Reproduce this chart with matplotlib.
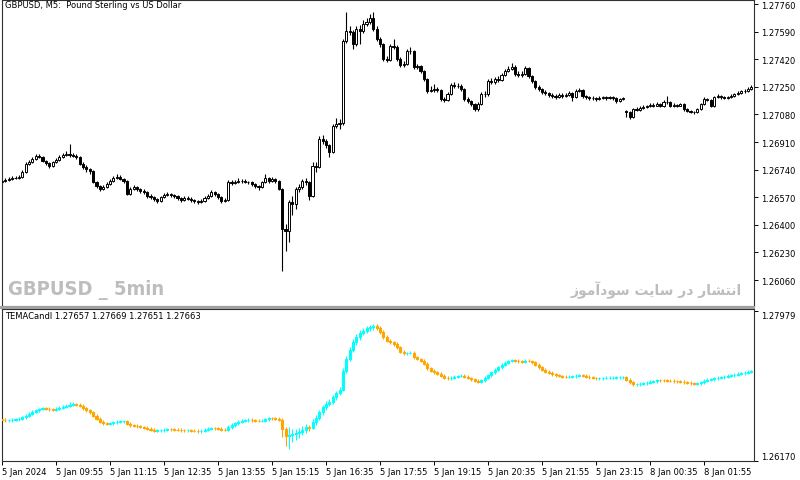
# -*- coding:utf-8 -*-
import numpy as np
import matplotlib
matplotlib.use('Agg')
import matplotlib.pyplot as plt
from matplotlib.patches import Rectangle
from matplotlib import font_manager

plt.rcParams['font.family'] = ['DejaVu Sans']

# ---- GBPUSD M5, 5 Jan 2024 08:35 -> 8 Jan 2024 03:05 (bar by bar)
opens = [
    1.26664, 1.26670, 1.26676, 1.26682, 1.26688, 1.26690, 1.26695, 1.26725, 1.26775, 1.26787,
    1.26805, 1.26824, 1.26818, 1.26793, 1.26781, 1.26762, 1.26787, 1.26799, 1.26818, 1.26830,
    1.26836, 1.26830, 1.26824, 1.26818, 1.26775, 1.26756, 1.26744, 1.26731, 1.26664, 1.26639,
    1.26621, 1.26633, 1.26651, 1.26670, 1.26688, 1.26695, 1.26682, 1.26670, 1.26590, 1.26621,
    1.26633, 1.26621, 1.26608, 1.26602, 1.26578, 1.26571, 1.26559, 1.26547, 1.26571, 1.26584,
    1.26590, 1.26584, 1.26578, 1.26565, 1.26553, 1.26565, 1.26562, 1.26553, 1.26547, 1.26541,
    1.26547, 1.26565, 1.26578, 1.26602, 1.26590, 1.26571, 1.26547, 1.26553, 1.26664, 1.26658,
    1.26664, 1.26670, 1.26672, 1.26664, 1.26661, 1.26651, 1.26639, 1.26633, 1.26664, 1.26688,
    1.26670, 1.26682, 1.26670, 1.26621, 1.26374, 1.26362, 1.26541, 1.26528, 1.26621, 1.26633,
    1.26670, 1.26664, 1.26578, 1.26762, 1.26756, 1.26929, 1.26916, 1.26892, 1.26849, 1.27009,
    1.27021, 1.27027, 1.27532, 1.27594, 1.27590, 1.27514, 1.27606, 1.27594, 1.27637, 1.27649,
    1.27674, 1.27606, 1.27545, 1.27514, 1.27421, 1.27418, 1.27501, 1.27498, 1.27421, 1.27384,
    1.27391, 1.27471, 1.27468, 1.27372, 1.27378, 1.27348, 1.27298, 1.27224, 1.27230, 1.27237,
    1.27230, 1.27175, 1.27172, 1.27206, 1.27261, 1.27258, 1.27255, 1.27237, 1.27175, 1.27163,
    1.27144, 1.27113, 1.27144, 1.27206, 1.27203, 1.27286, 1.27280, 1.27298, 1.27292, 1.27323,
    1.27348, 1.27360, 1.27372, 1.27329, 1.27326, 1.27329, 1.27366, 1.27317, 1.27286, 1.27249,
    1.27237, 1.27218, 1.27212, 1.27200, 1.27193, 1.27187, 1.27200, 1.27193, 1.27200, 1.27212,
    1.27187, 1.27224, 1.27230, 1.27193, 1.27187, 1.27181, 1.27184, 1.27175, 1.27181, 1.27187,
    1.27181, 1.27187, 1.27181, 1.27163, 1.27175, 1.27101, 1.27095, 1.27064, 1.27113, 1.27110,
    1.27120, 1.27126, 1.27129, 1.27138, 1.27135, 1.27144, 1.27132, 1.27157, 1.27154, 1.27132,
    1.27138, 1.27135, 1.27144, 1.27113, 1.27101, 1.27095, 1.27092, 1.27113, 1.27144, 1.27175,
    1.27169, 1.27132, 1.27187, 1.27193, 1.27187, 1.27184, 1.27187, 1.27193, 1.27206, 1.27212,
    1.27224, 1.27227, 1.27237,
]
highs = [
    1.26682, 1.26688, 1.26695, 1.26701, 1.26701, 1.26707, 1.26735, 1.26785, 1.26799, 1.26818,
    1.26836, 1.26836, 1.26824, 1.26799, 1.26787, 1.26795, 1.26810, 1.26830, 1.26845, 1.26855,
    1.26898, 1.26842, 1.26836, 1.26824, 1.26787, 1.26768, 1.26750, 1.26738, 1.26670, 1.26645,
    1.26645, 1.26664, 1.26680, 1.26699, 1.26713, 1.26707, 1.26688, 1.26676, 1.26633, 1.26645,
    1.26639, 1.26627, 1.26621, 1.26608, 1.26590, 1.26578, 1.26565, 1.26578, 1.26596, 1.26602,
    1.26596, 1.26590, 1.26584, 1.26571, 1.26578, 1.26575, 1.26571, 1.26562, 1.26553, 1.26559,
    1.26575, 1.26590, 1.26614, 1.26608, 1.26596, 1.26578, 1.26565, 1.26676, 1.26676, 1.26676,
    1.26688, 1.26682, 1.26680, 1.26672, 1.26670, 1.26658, 1.26645, 1.26670, 1.26713, 1.26695,
    1.26695, 1.26688, 1.26676, 1.26627, 1.26405, 1.26553, 1.26578, 1.26633, 1.26651, 1.26682,
    1.26688, 1.26670, 1.26787, 1.26787, 1.26947, 1.26953, 1.26929, 1.26898, 1.27021, 1.27058,
    1.27052, 1.27545, 1.27711, 1.27625, 1.27600, 1.27625, 1.27630, 1.27662, 1.27674, 1.27699,
    1.27711, 1.27625, 1.27557, 1.27520, 1.27440, 1.27514, 1.27545, 1.27510, 1.27434, 1.27409,
    1.27483, 1.27495, 1.27477, 1.27391, 1.27384, 1.27354, 1.27304, 1.27255, 1.27267, 1.27249,
    1.27237, 1.27187, 1.27218, 1.27273, 1.27280, 1.27273, 1.27267, 1.27243, 1.27187, 1.27169,
    1.27150, 1.27157, 1.27218, 1.27224, 1.27298, 1.27304, 1.27311, 1.27317, 1.27335, 1.27360,
    1.27378, 1.27397, 1.27384, 1.27348, 1.27348, 1.27378, 1.27372, 1.27323, 1.27292, 1.27261,
    1.27243, 1.27230, 1.27218, 1.27212, 1.27206, 1.27212, 1.27212, 1.27212, 1.27224, 1.27218,
    1.27237, 1.27243, 1.27237, 1.27200, 1.27193, 1.27193, 1.27190, 1.27193, 1.27196, 1.27196,
    1.27196, 1.27193, 1.27187, 1.27184, 1.27190, 1.27107, 1.27101, 1.27120, 1.27126, 1.27132,
    1.27138, 1.27141, 1.27150, 1.27150, 1.27157, 1.27150, 1.27166, 1.27193, 1.27160, 1.27150,
    1.27147, 1.27153, 1.27150, 1.27120, 1.27107, 1.27104, 1.27120, 1.27150, 1.27187, 1.27184,
    1.27175, 1.27196, 1.27203, 1.27200, 1.27196, 1.27196, 1.27203, 1.27215, 1.27224, 1.27233,
    1.27237, 1.27249, 1.27261,
]
lows = [
    1.26652, 1.26664, 1.26670, 1.26676, 1.26680, 1.26684, 1.26690, 1.26719, 1.26768, 1.26781,
    1.26799, 1.26810, 1.26787, 1.26770, 1.26750, 1.26756, 1.26781, 1.26793, 1.26812, 1.26824,
    1.26818, 1.26815, 1.26806, 1.26768, 1.26744, 1.26725, 1.26713, 1.26658, 1.26627, 1.26608,
    1.26614, 1.26627, 1.26645, 1.26664, 1.26682, 1.26676, 1.26660, 1.26584, 1.26584, 1.26614,
    1.26608, 1.26596, 1.26590, 1.26565, 1.26559, 1.26547, 1.26534, 1.26541, 1.26565, 1.26578,
    1.26571, 1.26565, 1.26553, 1.26541, 1.26547, 1.26550, 1.26541, 1.26534, 1.26528, 1.26534,
    1.26541, 1.26559, 1.26571, 1.26578, 1.26559, 1.26534, 1.26541, 1.26547, 1.26645, 1.26651,
    1.26658, 1.26660, 1.26655, 1.26651, 1.26639, 1.26627, 1.26614, 1.26627, 1.26658, 1.26658,
    1.26664, 1.26658, 1.26614, 1.26115, 1.26239, 1.26294, 1.26460, 1.26497, 1.26602, 1.26621,
    1.26645, 1.26553, 1.26571, 1.26725, 1.26750, 1.26898, 1.26873, 1.26818, 1.26843, 1.26996,
    1.26990, 1.27015, 1.27520, 1.27570, 1.27483, 1.27501, 1.27514, 1.27580, 1.27625, 1.27640,
    1.27595, 1.27532, 1.27495, 1.27409, 1.27400, 1.27409, 1.27483, 1.27409, 1.27372, 1.27372,
    1.27384, 1.27452, 1.27360, 1.27360, 1.27335, 1.27286, 1.27212, 1.27218, 1.27218, 1.27218,
    1.27163, 1.27157, 1.27163, 1.27200, 1.27243, 1.27243, 1.27224, 1.27163, 1.27150, 1.27132,
    1.27101, 1.27101, 1.27138, 1.27187, 1.27193, 1.27267, 1.27267, 1.27280, 1.27286, 1.27317,
    1.27341, 1.27354, 1.27317, 1.27311, 1.27311, 1.27323, 1.27304, 1.27273, 1.27237, 1.27224,
    1.27206, 1.27200, 1.27187, 1.27181, 1.27175, 1.27181, 1.27181, 1.27187, 1.27193, 1.27163,
    1.27181, 1.27218, 1.27181, 1.27175, 1.27169, 1.27172, 1.27163, 1.27169, 1.27175, 1.27172,
    1.27175, 1.27169, 1.27150, 1.27157, 1.27169, 1.27064, 1.27052, 1.27058, 1.27101, 1.27104,
    1.27113, 1.27120, 1.27123, 1.27126, 1.27129, 1.27123, 1.27126, 1.27144, 1.27123, 1.27126,
    1.27126, 1.27129, 1.27104, 1.27092, 1.27086, 1.27083, 1.27086, 1.27107, 1.27138, 1.27160,
    1.27123, 1.27126, 1.27181, 1.27178, 1.27175, 1.27175, 1.27181, 1.27187, 1.27200, 1.27206,
    1.27215, 1.27221, 1.27230,
]
closes = [
    1.26670, 1.26676, 1.26682, 1.26688, 1.26690, 1.26695, 1.26725, 1.26775, 1.26787, 1.26805,
    1.26824, 1.26818, 1.26793, 1.26781, 1.26762, 1.26787, 1.26799, 1.26818, 1.26830, 1.26836,
    1.26830, 1.26824, 1.26818, 1.26775, 1.26756, 1.26744, 1.26731, 1.26664, 1.26639, 1.26621,
    1.26633, 1.26651, 1.26670, 1.26688, 1.26695, 1.26682, 1.26670, 1.26590, 1.26621, 1.26633,
    1.26621, 1.26608, 1.26602, 1.26578, 1.26571, 1.26559, 1.26547, 1.26571, 1.26584, 1.26590,
    1.26584, 1.26578, 1.26565, 1.26553, 1.26565, 1.26562, 1.26553, 1.26547, 1.26541, 1.26547,
    1.26565, 1.26578, 1.26602, 1.26590, 1.26571, 1.26547, 1.26553, 1.26664, 1.26658, 1.26664,
    1.26670, 1.26672, 1.26664, 1.26661, 1.26651, 1.26639, 1.26633, 1.26664, 1.26688, 1.26670,
    1.26682, 1.26670, 1.26621, 1.26374, 1.26362, 1.26541, 1.26528, 1.26621, 1.26633, 1.26670,
    1.26664, 1.26578, 1.26762, 1.26756, 1.26929, 1.26916, 1.26892, 1.26849, 1.27009, 1.27021,
    1.27027, 1.27532, 1.27594, 1.27590, 1.27514, 1.27606, 1.27594, 1.27637, 1.27649, 1.27674,
    1.27606, 1.27545, 1.27514, 1.27421, 1.27418, 1.27501, 1.27498, 1.27421, 1.27384, 1.27391,
    1.27471, 1.27468, 1.27372, 1.27378, 1.27348, 1.27298, 1.27224, 1.27230, 1.27237, 1.27230,
    1.27175, 1.27172, 1.27206, 1.27261, 1.27258, 1.27255, 1.27237, 1.27175, 1.27163, 1.27144,
    1.27113, 1.27144, 1.27206, 1.27203, 1.27286, 1.27280, 1.27298, 1.27292, 1.27323, 1.27348,
    1.27360, 1.27372, 1.27329, 1.27326, 1.27329, 1.27366, 1.27317, 1.27286, 1.27249, 1.27237,
    1.27218, 1.27212, 1.27200, 1.27193, 1.27187, 1.27200, 1.27193, 1.27200, 1.27212, 1.27187,
    1.27224, 1.27230, 1.27193, 1.27187, 1.27181, 1.27184, 1.27175, 1.27181, 1.27187, 1.27181,
    1.27187, 1.27181, 1.27163, 1.27175, 1.27181, 1.27095, 1.27064, 1.27113, 1.27110, 1.27120,
    1.27126, 1.27129, 1.27138, 1.27135, 1.27144, 1.27132, 1.27157, 1.27154, 1.27132, 1.27138,
    1.27135, 1.27144, 1.27113, 1.27101, 1.27095, 1.27092, 1.27113, 1.27144, 1.27175, 1.27169,
    1.27132, 1.27187, 1.27193, 1.27187, 1.27184, 1.27187, 1.27193, 1.27206, 1.27212, 1.27224,
    1.27227, 1.27237, 1.27249,
]

# ---- TEMACandl indicator window
tema_open = [
    1.26672, 1.26665, 1.26661, 1.26663, 1.26669, 1.26673, 1.26681, 1.26697, 1.26717, 1.26741,
    1.26761, 1.26781, 1.26797, 1.26805, 1.26801, 1.26793, 1.26791, 1.26801, 1.26814, 1.26826,
    1.26838, 1.26850, 1.26854, 1.26850, 1.26838, 1.26809, 1.26781, 1.26757, 1.26717, 1.26677,
    1.26645, 1.26625, 1.26617, 1.26625, 1.26637, 1.26645, 1.26647, 1.26649, 1.26617, 1.26604,
    1.26596, 1.26588, 1.26580, 1.26572, 1.26560, 1.26548, 1.26536, 1.26538, 1.26540, 1.26548,
    1.26552, 1.26550, 1.26548, 1.26544, 1.26540, 1.26538, 1.26541, 1.26537, 1.26533, 1.26528,
    1.26532, 1.26544, 1.26556, 1.26568, 1.26566, 1.26560, 1.26548, 1.26544, 1.26576, 1.26604,
    1.26625, 1.26641, 1.26653, 1.26661, 1.26665, 1.26663, 1.26657, 1.26653, 1.26657, 1.26673,
    1.26685, 1.26683, 1.26681, 1.26669, 1.26556, 1.26468, 1.26484, 1.26492, 1.26504, 1.26516,
    1.26544, 1.26576, 1.26566, 1.26637, 1.26685, 1.26757, 1.26818, 1.26858, 1.26886, 1.26938,
    1.26986, 1.27031, 1.27260, 1.27400, 1.27513, 1.27601, 1.27662, 1.27714, 1.27742, 1.27770,
    1.27786, 1.27794, 1.27778, 1.27730, 1.27670, 1.27622, 1.27601, 1.27581, 1.27541, 1.27489,
    1.27469, 1.27471, 1.27475, 1.27421, 1.27400, 1.27380, 1.27340, 1.27288, 1.27260, 1.27240,
    1.27220, 1.27200, 1.27175, 1.27167, 1.27175, 1.27187, 1.27195, 1.27199, 1.27187, 1.27171,
    1.27155, 1.27135, 1.27123, 1.27143, 1.27175, 1.27207, 1.27240, 1.27272, 1.27300, 1.27328,
    1.27356, 1.27376, 1.27388, 1.27380, 1.27372, 1.27368, 1.27380, 1.27376, 1.27360, 1.27328,
    1.27300, 1.27272, 1.27248, 1.27232, 1.27216, 1.27203, 1.27195, 1.27187, 1.27183, 1.27187,
    1.27191, 1.27199, 1.27207, 1.27199, 1.27187, 1.27179, 1.27171, 1.27167, 1.27169, 1.27171,
    1.27173, 1.27174, 1.27176, 1.27177, 1.27178, 1.27179, 1.27151, 1.27119, 1.27093, 1.27097,
    1.27103, 1.27109, 1.27115, 1.27123, 1.27133, 1.27145, 1.27143, 1.27141, 1.27139, 1.27137,
    1.27134, 1.27131, 1.27127, 1.27119, 1.27111, 1.27105, 1.27101, 1.27107, 1.27119, 1.27139,
    1.27151, 1.27155, 1.27165, 1.27173, 1.27181, 1.27189, 1.27197, 1.27205, 1.27213, 1.27221,
    1.27229, 1.27237, 1.27245,
]
tema_high = [
    1.26690, 1.26683, 1.26681, 1.26687, 1.26691, 1.26699, 1.26715, 1.26735, 1.26759, 1.26779,
    1.26799, 1.26815, 1.26823, 1.26823, 1.26819, 1.26811, 1.26819, 1.26832, 1.26844, 1.26856,
    1.26880, 1.26878, 1.26874, 1.26868, 1.26856, 1.26827, 1.26799, 1.26775, 1.26735, 1.26695,
    1.26663, 1.26643, 1.26643, 1.26655, 1.26663, 1.26665, 1.26667, 1.26667, 1.26635, 1.26622,
    1.26614, 1.26606, 1.26598, 1.26590, 1.26578, 1.26566, 1.26556, 1.26558, 1.26566, 1.26570,
    1.26570, 1.26568, 1.26566, 1.26562, 1.26558, 1.26559, 1.26559, 1.26555, 1.26551, 1.26550,
    1.26562, 1.26574, 1.26586, 1.26586, 1.26584, 1.26578, 1.26566, 1.26600, 1.26624, 1.26645,
    1.26661, 1.26671, 1.26679, 1.26683, 1.26683, 1.26681, 1.26675, 1.26675, 1.26691, 1.26703,
    1.26703, 1.26701, 1.26699, 1.26690, 1.26580, 1.26576, 1.26560, 1.26560, 1.26570, 1.26590,
    1.26620, 1.26610, 1.26680, 1.26720, 1.26790, 1.26850, 1.26890, 1.26915, 1.26970, 1.27020,
    1.27065, 1.27290, 1.27440, 1.27550, 1.27640, 1.27700, 1.27750, 1.27775, 1.27800, 1.27815,
    1.27825, 1.27820, 1.27800, 1.27755, 1.27695, 1.27640, 1.27620, 1.27600, 1.27560, 1.27507,
    1.27490, 1.27495, 1.27493, 1.27439, 1.27418, 1.27398, 1.27358, 1.27306, 1.27278, 1.27258,
    1.27238, 1.27218, 1.27193, 1.27193, 1.27205, 1.27213, 1.27217, 1.27217, 1.27205, 1.27189,
    1.27173, 1.27153, 1.27161, 1.27193, 1.27225, 1.27258, 1.27290, 1.27318, 1.27346, 1.27374,
    1.27394, 1.27406, 1.27406, 1.27398, 1.27390, 1.27398, 1.27398, 1.27394, 1.27378, 1.27346,
    1.27318, 1.27290, 1.27266, 1.27250, 1.27234, 1.27221, 1.27213, 1.27205, 1.27205, 1.27209,
    1.27217, 1.27225, 1.27225, 1.27217, 1.27205, 1.27197, 1.27189, 1.27187, 1.27189, 1.27191,
    1.27192, 1.27194, 1.27195, 1.27196, 1.27197, 1.27197, 1.27169, 1.27137, 1.27115, 1.27121,
    1.27127, 1.27133, 1.27141, 1.27151, 1.27163, 1.27163, 1.27161, 1.27159, 1.27157, 1.27155,
    1.27152, 1.27149, 1.27145, 1.27137, 1.27129, 1.27123, 1.27125, 1.27137, 1.27157, 1.27169,
    1.27173, 1.27183, 1.27191, 1.27199, 1.27207, 1.27215, 1.27223, 1.27231, 1.27239, 1.27247,
    1.27255, 1.27263, 1.27271,
]
tema_low = [
    1.26647, 1.26643, 1.26643, 1.26645, 1.26651, 1.26655, 1.26663, 1.26679, 1.26699, 1.26723,
    1.26743, 1.26763, 1.26779, 1.26783, 1.26775, 1.26773, 1.26773, 1.26783, 1.26796, 1.26808,
    1.26820, 1.26832, 1.26832, 1.26820, 1.26791, 1.26763, 1.26739, 1.26699, 1.26659, 1.26627,
    1.26607, 1.26599, 1.26599, 1.26607, 1.26619, 1.26627, 1.26629, 1.26599, 1.26586, 1.26578,
    1.26570, 1.26562, 1.26554, 1.26542, 1.26530, 1.26518, 1.26518, 1.26520, 1.26522, 1.26530,
    1.26532, 1.26530, 1.26526, 1.26522, 1.26520, 1.26520, 1.26519, 1.26515, 1.26510, 1.26510,
    1.26514, 1.26526, 1.26538, 1.26548, 1.26542, 1.26530, 1.26526, 1.26526, 1.26558, 1.26586,
    1.26607, 1.26623, 1.26635, 1.26643, 1.26645, 1.26639, 1.26635, 1.26635, 1.26639, 1.26655,
    1.26665, 1.26663, 1.26651, 1.26456, 1.26355, 1.26315, 1.26400, 1.26420, 1.26450, 1.26480,
    1.26510, 1.26530, 1.26550, 1.26610, 1.26660, 1.26730, 1.26790, 1.26830, 1.26860, 1.26910,
    1.26960, 1.27010, 1.27230, 1.27370, 1.27480, 1.27570, 1.27630, 1.27685, 1.27715, 1.27740,
    1.27755, 1.27750, 1.27705, 1.27645, 1.27600, 1.27580, 1.27560, 1.27520, 1.27470, 1.27451,
    1.27450, 1.27455, 1.27403, 1.27382, 1.27362, 1.27322, 1.27270, 1.27242, 1.27222, 1.27202,
    1.27182, 1.27157, 1.27149, 1.27149, 1.27157, 1.27169, 1.27177, 1.27169, 1.27153, 1.27137,
    1.27117, 1.27105, 1.27105, 1.27125, 1.27157, 1.27189, 1.27222, 1.27254, 1.27282, 1.27310,
    1.27338, 1.27358, 1.27362, 1.27354, 1.27350, 1.27350, 1.27358, 1.27342, 1.27310, 1.27282,
    1.27254, 1.27230, 1.27214, 1.27198, 1.27185, 1.27177, 1.27169, 1.27165, 1.27165, 1.27169,
    1.27173, 1.27181, 1.27181, 1.27169, 1.27161, 1.27153, 1.27149, 1.27149, 1.27151, 1.27153,
    1.27155, 1.27156, 1.27158, 1.27159, 1.27160, 1.27133, 1.27101, 1.27075, 1.27075, 1.27079,
    1.27085, 1.27091, 1.27097, 1.27105, 1.27115, 1.27125, 1.27123, 1.27121, 1.27119, 1.27116,
    1.27113, 1.27109, 1.27101, 1.27093, 1.27087, 1.27083, 1.27083, 1.27089, 1.27101, 1.27121,
    1.27133, 1.27137, 1.27147, 1.27155, 1.27163, 1.27171, 1.27179, 1.27187, 1.27195, 1.27203,
    1.27211, 1.27219, 1.27227,
]
tema_close = [
    1.26665, 1.26661, 1.26663, 1.26669, 1.26673, 1.26681, 1.26697, 1.26717, 1.26741, 1.26761,
    1.26781, 1.26797, 1.26805, 1.26801, 1.26793, 1.26791, 1.26801, 1.26814, 1.26826, 1.26838,
    1.26850, 1.26854, 1.26850, 1.26838, 1.26809, 1.26781, 1.26757, 1.26717, 1.26677, 1.26645,
    1.26625, 1.26617, 1.26625, 1.26637, 1.26645, 1.26647, 1.26649, 1.26617, 1.26604, 1.26596,
    1.26588, 1.26580, 1.26572, 1.26560, 1.26548, 1.26536, 1.26538, 1.26540, 1.26548, 1.26552,
    1.26550, 1.26548, 1.26544, 1.26540, 1.26538, 1.26541, 1.26537, 1.26533, 1.26528, 1.26532,
    1.26544, 1.26556, 1.26568, 1.26566, 1.26560, 1.26548, 1.26544, 1.26576, 1.26604, 1.26625,
    1.26641, 1.26653, 1.26661, 1.26665, 1.26663, 1.26657, 1.26653, 1.26657, 1.26673, 1.26685,
    1.26683, 1.26681, 1.26669, 1.26556, 1.26468, 1.26484, 1.26492, 1.26504, 1.26516, 1.26544,
    1.26576, 1.26566, 1.26637, 1.26685, 1.26757, 1.26818, 1.26858, 1.26886, 1.26938, 1.26986,
    1.27031, 1.27260, 1.27400, 1.27513, 1.27601, 1.27662, 1.27714, 1.27742, 1.27770, 1.27786,
    1.27794, 1.27778, 1.27730, 1.27670, 1.27622, 1.27601, 1.27581, 1.27541, 1.27489, 1.27469,
    1.27471, 1.27475, 1.27421, 1.27400, 1.27380, 1.27340, 1.27288, 1.27260, 1.27240, 1.27220,
    1.27200, 1.27175, 1.27167, 1.27175, 1.27187, 1.27195, 1.27199, 1.27187, 1.27171, 1.27155,
    1.27135, 1.27123, 1.27143, 1.27175, 1.27207, 1.27240, 1.27272, 1.27300, 1.27328, 1.27356,
    1.27376, 1.27388, 1.27380, 1.27372, 1.27368, 1.27380, 1.27376, 1.27360, 1.27328, 1.27300,
    1.27272, 1.27248, 1.27232, 1.27216, 1.27203, 1.27195, 1.27187, 1.27183, 1.27187, 1.27191,
    1.27199, 1.27207, 1.27199, 1.27187, 1.27179, 1.27171, 1.27167, 1.27169, 1.27171, 1.27173,
    1.27174, 1.27176, 1.27177, 1.27178, 1.27179, 1.27151, 1.27119, 1.27093, 1.27097, 1.27103,
    1.27109, 1.27115, 1.27123, 1.27133, 1.27145, 1.27143, 1.27141, 1.27139, 1.27137, 1.27134,
    1.27131, 1.27127, 1.27119, 1.27111, 1.27105, 1.27101, 1.27107, 1.27119, 1.27139, 1.27151,
    1.27155, 1.27165, 1.27173, 1.27181, 1.27189, 1.27197, 1.27205, 1.27213, 1.27221, 1.27229,
    1.27237, 1.27245, 1.27253,
]

price_ticks = [1.27760, 1.27590, 1.27420, 1.27250, 1.27080, 1.26910,
               1.26740, 1.26570, 1.26400, 1.26230, 1.26060]
tema_ticks = [1.26170, 1.27979]
time_labels = ['5 Jan 2024', '5 Jan 09:55', '5 Jan 11:15', '5 Jan 12:35', '5 Jan 13:55',
               '5 Jan 15:15', '5 Jan 16:35', '5 Jan 17:55', '5 Jan 19:15', '5 Jan 20:35',
               '5 Jan 21:55', '5 Jan 23:15', '8 Jan 00:35', '8 Jan 01:55']
label_step = 16   # one time label every 16 bars

W, H = 800, 481
def px(l, t, r, b):
    return [l / W, 1 - b / H, (r - l) / W, (b - t) / H]

fig = plt.figure(figsize=(W / 100, H / 100), dpi=100)
ax1 = fig.add_axes(px(2, 1, 754, 307))
ax2 = fig.add_axes(px(2, 310, 754, 462))

x = np.arange(len(closes))
o = np.array(opens); h = np.array(highs); l = np.array(lows); c = np.array(closes)
up = c >= o

# candles
ax1.vlines(x, l, h, color='black', linewidth=0.8, zorder=2)
ax1.bar(x[up], (c - o)[up], bottom=o[up], width=0.62, facecolor='white',
        edgecolor='black', linewidth=0.7, zorder=3)
ax1.bar(x[~up], (o - c)[~up], bottom=c[~up], width=0.62, facecolor='black',
        edgecolor='black', linewidth=0.7, zorder=3)

# TEMA candles
to = np.array(tema_open); th = np.array(tema_high); tl = np.array(tema_low); tc = np.array(tema_close)
cols = np.where(tc > to, '#00FFFF', '#FFA500')
ax2.vlines(x, tl, th, colors=cols, linewidth=0.8, zorder=2)
ax2.bar(x, np.abs(tc - to), bottom=np.minimum(tc, to), width=0.6, color=cols,
        edgecolor=cols, linewidth=0.8, zorder=3)

for ax in (ax1, ax2):
    ax.set_xlim(0, 222.8)
    ax.yaxis.tick_right()
    ax.tick_params(axis='y', direction='out', length=3, width=0.7, pad=2,
                   labelsize=6, colors='black')
    for s in ax.spines.values():
        s.set_color('#303030')
        s.set_linewidth(0.8)

ax1.set_ylim(1.25900, 1.27785)
ax1.set_yticks(price_ticks)
ax1.set_yticklabels(['%.5f' % v for v in price_ticks])
ax1.set_xticks([])

ax2.set_ylim(1.26170, 1.28003)
ax2.set_yticks(tema_ticks)
ax2.set_yticklabels(['%.5f' % v for v in tema_ticks])
lab = ax2.get_yticklabels()
lab[0].set_verticalalignment('bottom')
lab[1].set_verticalalignment('top')

ax2.set_xticks(np.arange(len(time_labels)) * label_step)
ax2.set_xticklabels(time_labels)
ax2.tick_params(axis='x', direction='out', length=3, width=0.7, pad=1, labelsize=6)
for t in ax2.get_xticklabels():
    t.set_horizontalalignment('left')

# window separator
fig.add_artist(Rectangle((0, 1 - 310 / H), 755 / W, 3 / H, transform=fig.transFigure,
                         facecolor='#a0a0a0', edgecolor='none', zorder=5))

fig.text(5 / W, 1 - 6 / H, 'GBPUSD, M5:  Pound Sterling vs US Dollar', fontsize=6,
         va='center', ha='left')
fig.text(5 / W, 1 - 317 / H, 'TEMACandl 1.27657 1.27669 1.27651 1.27663', fontsize=6,
         va='center', ha='left')

# watermark, narrow bold face if one is installed
narrow = None
for f in font_manager.fontManager.ttflist:
    if f.weight in ('bold', 700) and ('Narrow' in f.name or 'Condensed' in f.name
                                       or f.stretch in ('condensed', 'semi-condensed')):
        narrow = f.name
        break
wm_family = [narrow, 'DejaVu Sans'] if narrow else ['DejaVu Sans']
fig.text(8 / W, 1 - 290 / H, 'GBPUSD _ 5min', fontsize=14.5, fontweight='bold',
         fontstretch='condensed', color='#bdbdbd', va='center', ha='left',
         family=wm_family)
fig.text(742 / W, 1 - 290 / H, 'ﺯﻮﻣﺁﺩﻮﺳ ﺖﻳﺎﺳ ﺭﺩ ﺭﺎﺸﺘﻧﺍ', fontsize=10,
         fontweight='bold', color='#bdbdbd', va='center', ha='right',
         family=['DejaVu Sans'])

fig.savefig('out.png', dpi=100)
